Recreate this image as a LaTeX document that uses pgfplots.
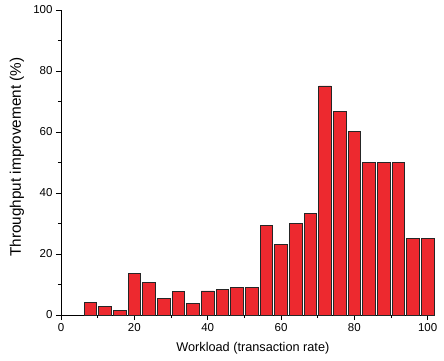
\documentclass[border=0pt]{standalone}
\usepackage{pgfplots}
\pgfplotsset{compat=1.18}
\usepackage{fontspec}
\setmainfont{Liberation Sans}
\definecolor{barred}{RGB}{237,41,47}
\begin{document}
\begin{tikzpicture}
\path[use as bounding box] (-61pt,-45pt) rectangle (383pt,315pt);
\begin{axis}[
  scale only axis,
  width=374pt, height=305pt,
  at={(0pt,0pt)}, anchor=origin,
  xmin=0, xmax=102, ymin=0, ymax=100,
  axis lines*=left,
  axis line style={line width=0.8pt},
  tick align=outside,
  tick style={black, line width=0.8pt},
  major tick length=5pt, minor tick length=3pt,
  xtick={0,20,40,60,80,100}, ytick={0,20,40,60,80,100},
  minor xtick={10,30,50,70,90}, minor ytick={10,30,50,70,90},
  /pgf/number format/assume math mode=true,
  tick label style={font=\fontsize{11.5}{13}\selectfont},
  xlabel={Workload (transaction rate)},
  ylabel={Throughput improvement (\%)},
  xlabel style={font=\fontsize{12.7}{14}\selectfont, at={(axis description cs:0.513,-0.108)}, anchor=center},
  ylabel style={font=\fontsize{15.3}{17}\selectfont, at={(axis description cs:-0.1176,0.518)}, anchor=center},
  clip=false,
]
\addplot[ybar, bar width=3.4, fill=barred, draw=black!85, line width=0.7pt] coordinates {
(8,4.0) (12,2.8) (16,1.6) (20,13.7) (24,10.6) (28,5.5) (32,7.6) (36,3.7)
(40,7.9) (44,8.3) (48,9.1) (52,9.1) (56,29.4) (60,23.1) (64,29.9) (68,33.3)
(72,75.1) (76,66.7) (80,60.1) (84,50) (88,50) (92,50) (96,25) (100,25)
};
\end{axis}
\end{tikzpicture}
\end{document}
